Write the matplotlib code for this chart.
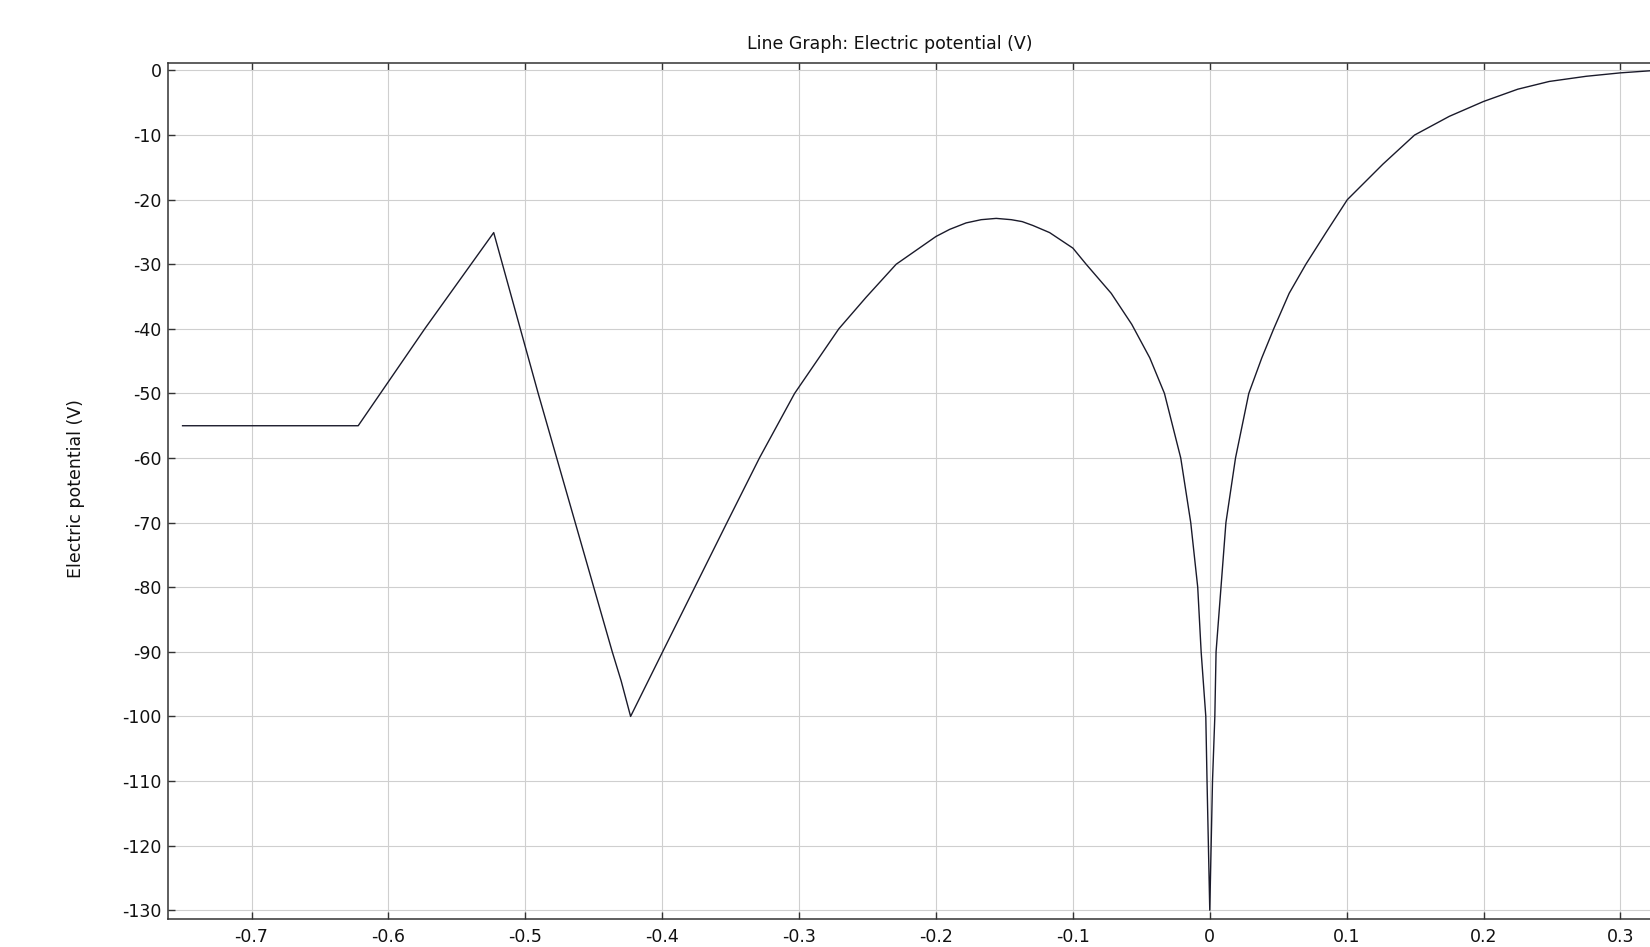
#!/usr/bin/env python

import numpy as np

import matplotlib as mpl
mpl.use('Agg')
mpl.rcParams['font.size'] = 12.5
mpl.rcParams['font.family'] = 'DejaVu Sans'
mpl.rcParams['axes.unicode_minus'] = False
import matplotlib.pyplot as plt

# Line graph values (x in arc length, y in V)
x_values = [
    -0.7504, -0.6221, -0.5735, -0.5231,
    -0.4906, -0.4365, -0.4300, -0.4231,
    -0.3997, -0.3762, -0.3527, -0.3290, -0.3033, -0.2710, -0.2510, -0.2291,
    -0.2000, -0.1900, -0.1780, -0.1670, -0.1560, -0.1450, -0.1370, -0.1292, -0.1170,
    -0.1000, -0.0903, -0.0720, -0.0570, -0.0438, -0.0331, -0.0212, -0.0139, -0.0088,
    -0.0063, -0.0029, -0.0020, -0.0010, 0.0000,
    0.0010, 0.0020, 0.0037, 0.0046, 0.0082, 0.0118, 0.0188, 0.0285, 0.0380, 0.0467,
    0.0580, 0.0702, 0.0852, 0.1005, 0.1265, 0.1496, 0.1750, 0.2000, 0.2250, 0.2480,
    0.2750, 0.3000, 0.3216,
]
y_values = [
    -55.0, -55.0, -40.0, -25.1,
    -50.0, -90.0, -94.5, -100.0,
    -90.0, -80.0, -70.0, -60.0, -50.0, -40.0, -35.1, -30.0,
    -25.7, -24.6, -23.6, -23.1, -22.9, -23.1, -23.4, -24.0, -25.1,
    -27.5, -30.0, -34.5, -39.3, -44.5, -50.0, -60.0, -70.0, -80.0,
    -90.0, -100.0, -110.0, -120.0, -130.0,
    -120.0, -110.0, -100.0, -90.0, -80.0, -70.0, -60.0, -50.0, -44.5, -40.0,
    -34.5, -30.0, -25.0, -20.0, -14.5, -10.0, -7.1, -4.8, -2.9, -1.7,
    -0.9, -0.37, -0.05,
]

x_ticks = [-0.7, -0.6, -0.5, -0.4, -0.3, -0.2, -0.1, 0.0, 0.1, 0.2, 0.3]
y_ticks = [0, -10, -20, -30, -40, -50, -60, -70, -80, -90, -100, -110, -120, -130]

title = 'Line Graph: Electric potential (V)'
ylabel = 'Electric potential (V)'


def plot_line(x, y, filename):
    fig = plt.figure(figsize=(16.5, 9.47), dpi=100)
    ax = fig.add_axes([0.1021, 0.0300, 0.8979, 0.9035])

    ax.plot(x, y, '-', color='#1a1a2a', linewidth=1.0)

    ax.set_xlim(-0.7607, 0.3216)
    ax.set_ylim(-131.3, 1.16)
    ax.set_xticks(x_ticks)
    ax.set_xticklabels(['{:g}'.format(round(t, 1)) for t in x_ticks])
    ax.set_yticks(y_ticks)
    ax.set_yticklabels(['{:g}'.format(t) for t in y_ticks])

    ax.grid(True, color='#cfcfcf', linewidth=0.8)
    ax.set_axisbelow(True)

    ax.tick_params(axis='both', direction='in', length=5, width=1.0,
                   color='#333333', labelcolor='#111111', labelsize=12.5)
    ax.tick_params(axis='x', top=True, pad=7)
    ax.tick_params(axis='y', pad=5)

    for side in ['left', 'bottom', 'top']:
        ax.spines[side].set_color('#333333')
        ax.spines[side].set_linewidth(1.1)
    ax.spines['right'].set_visible(False)

    fig.text(0.539, 0.9535, title, ha='center', va='center',
             fontsize=12.5, color='#111111')
    fig.text(0.0459, 0.4836, ylabel, ha='center', va='center',
             rotation=90, fontsize=12.5, color='#111111')

    fig.savefig(filename, dpi=100)


def main():
    plot_line(x_values, y_values, 'out.png')


if __name__ == "__main__":
    main()
